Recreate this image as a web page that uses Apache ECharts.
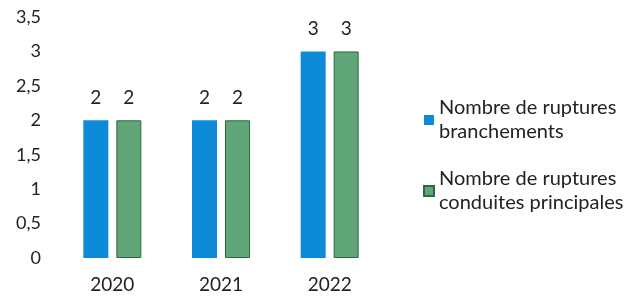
<!DOCTYPE html>
<html>
<head>
<meta charset="utf-8">
<script src="https://cdn.jsdelivr.net/npm/echarts@6/dist/echarts.min.js"></script>
<style>
  html, body { margin: 0; padding: 0; background: #fff; }
  #chart { width: 628px; height: 300px; }
</style>
</head>
<body>
<div id="chart"></div>
<script>
// data
const years = ['2020', '2021', '2022'];
const branchements = [2, 2, 3];
const conduites = [2, 2, 3];
const seriesNames = ['Nombre de ruptures\nbranchements', 'Nombre de ruptures\nconduites principales'];

const font = 'Lato, "Open Sans", sans-serif';
const txt = '#222';

let myChart = echarts.init(document.getElementById('chart'));
let option = {
    animation: false,
    textStyle: { fontFamily: font },
    grid: { left: 58, right: 244, top: 17, bottom: 42 },
    legend: {
        orient: 'vertical',
        left: 418,
        top: 79,
        itemWidth: 10,
        itemHeight: 10,
        itemGap: -1,
        icon: 'rect',
        data: seriesNames,
        textStyle: {
            fontFamily: font,
            fontSize: 20,
            color: txt,
            lineHeight: 24,
            padding: [24, 0, 0, 0]
        }
    },
    xAxis: {
        type: 'category',
        data: years,
        axisLine: { show: false },
        axisTick: { show: false },
        axisLabel: { fontSize: 19, color: txt, margin: 17, fontFamily: font }
    },
    yAxis: {
        type: 'value',
        min: 0,
        max: 3.5,
        interval: 0.5,
        splitLine: { show: false },
        axisLine: { show: false },
        axisTick: { show: false },
        axisLabel: {
            fontSize: 18,
            color: txt,
            margin: 17,
            fontFamily: font,
            formatter: v => String(v).replace('.', ',')
        }
    },
    series: [
        {
            name: seriesNames[0],
            type: 'bar',
            data: branchements,
            barWidth: 25,
            barGap: '32%',
            itemStyle: { color: '#0d8bd8' },
            label: { show: true, position: 'top', distance: 13, fontSize: 19, color: txt, fontFamily: font }
        },
        {
            name: seriesNames[1],
            type: 'bar',
            data: conduites,
            barWidth: 25,
            itemStyle: { color: '#60a679', borderColor: '#2a6b3e', borderWidth: 1 },
            label: { show: true, position: 'top', distance: 13, fontSize: 19, color: txt, fontFamily: font }
        }
    ]
};
myChart.setOption(option);
</script>
</body>
</html>
